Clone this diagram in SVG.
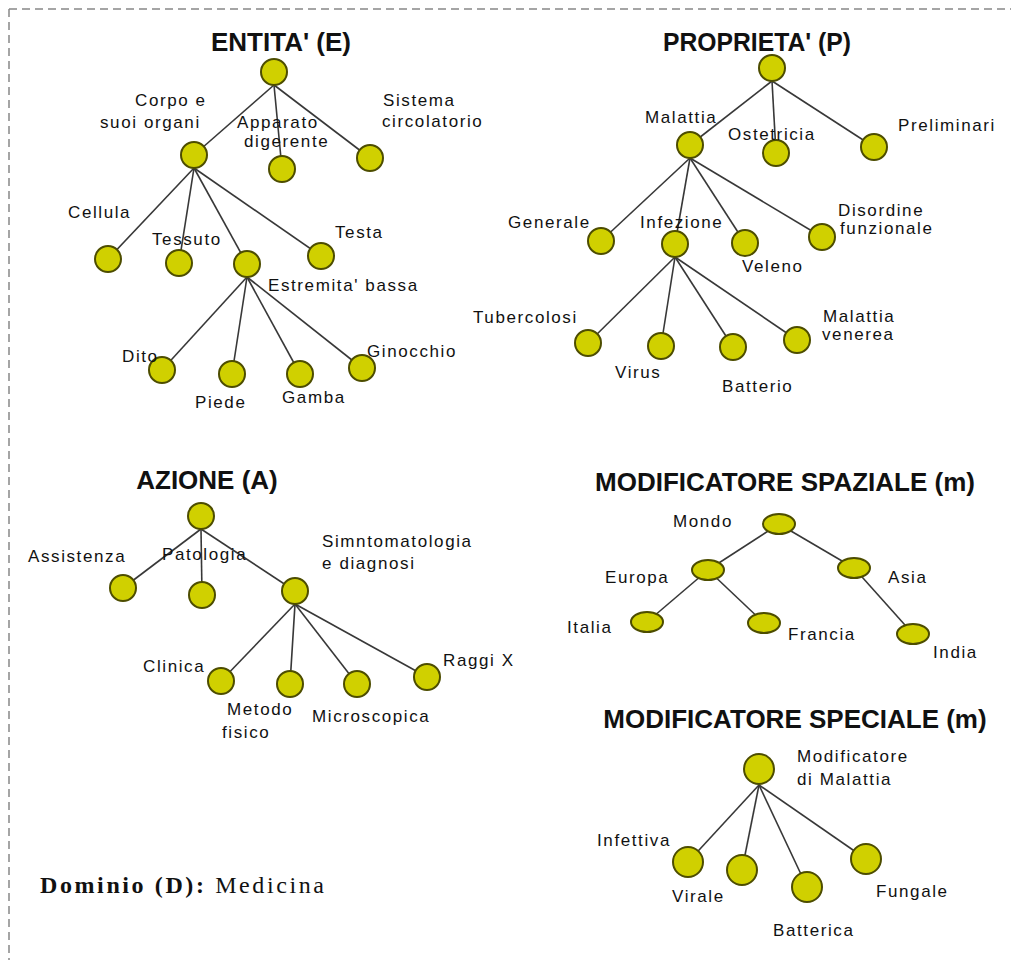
<svg xmlns="http://www.w3.org/2000/svg" width="1011" height="960" viewBox="0 0 1011 960">
<style>
.n{fill:#d0d000;stroke:#4d4d00;stroke-width:2}
.e line{stroke:#383838;stroke-width:1.6}
.t{font-family:"Liberation Sans",Arial,sans-serif;font-weight:bold;font-size:26px;fill:#111;text-anchor:middle}
.l{font-family:"Liberation Sans",Arial,sans-serif;font-size:17px;letter-spacing:1.6px;fill:#111}
.d{font-family:"Liberation Serif","Times New Roman",serif;font-size:24px;letter-spacing:2.6px;fill:#111}
</style>
<rect x="0" y="0" width="1011" height="960" fill="#fff"/>
<path d="M9,9 H1011 M9,9 V960" fill="none" stroke="#888" stroke-width="1.5" stroke-dasharray="8 5"/>

<g id="titles">
<text class="t" x="281" y="51">ENTITA' (E)</text>
<text class="t" x="757" y="51" textLength="188" lengthAdjust="spacingAndGlyphs">PROPRIETA' (P)</text>
<text class="t" x="207" y="489">AZIONE (A)</text>
<text class="t" x="785" y="491">MODIFICATORE SPAZIALE (m)</text>
<text class="t" x="795" y="728">MODIFICATORE SPECIALE (m)</text>
</g>

<g id="connectors" class="e">
<line x1="274" y1="85" x2="194" y2="155"/>
<line x1="274" y1="85" x2="282" y2="169"/>
<line x1="274" y1="85" x2="370" y2="158"/>
<line x1="194" y1="168" x2="108" y2="259"/>
<line x1="194" y1="168" x2="179" y2="263"/>
<line x1="194" y1="168" x2="247" y2="264"/>
<line x1="194" y1="168" x2="321" y2="256"/>
<line x1="247" y1="277" x2="162" y2="370"/>
<line x1="247" y1="277" x2="232" y2="374"/>
<line x1="247" y1="277" x2="300" y2="374"/>
<line x1="247" y1="277" x2="362" y2="368"/>
<line x1="772" y1="81" x2="690" y2="145"/>
<line x1="772" y1="81" x2="776" y2="153"/>
<line x1="772" y1="81" x2="874" y2="147"/>
<line x1="690" y1="158" x2="601" y2="241"/>
<line x1="690" y1="158" x2="675" y2="244"/>
<line x1="690" y1="158" x2="745" y2="243"/>
<line x1="690" y1="158" x2="822" y2="237"/>
<line x1="675" y1="257" x2="588" y2="343"/>
<line x1="675" y1="257" x2="661" y2="346"/>
<line x1="675" y1="257" x2="733" y2="347"/>
<line x1="675" y1="257" x2="797" y2="340"/>
<line x1="201" y1="529" x2="123" y2="588"/>
<line x1="201" y1="529" x2="202" y2="595"/>
<line x1="201" y1="529" x2="295" y2="591"/>
<line x1="295" y1="604" x2="221" y2="681"/>
<line x1="295" y1="604" x2="290" y2="684"/>
<line x1="295" y1="604" x2="357" y2="684"/>
<line x1="295" y1="604" x2="427" y2="677"/>
<line x1="779" y1="524" x2="708" y2="570"/>
<line x1="779" y1="524" x2="854" y2="568"/>
<line x1="708" y1="570" x2="647" y2="622"/>
<line x1="708" y1="570" x2="764" y2="623"/>
<line x1="854" y1="568" x2="913" y2="634"/>
<line x1="759" y1="785" x2="688" y2="862"/>
<line x1="759" y1="785" x2="742" y2="870"/>
<line x1="759" y1="785" x2="807" y2="887"/>
<line x1="759" y1="785" x2="866" y2="859"/>
</g>

<g id="e-root"><circle class="n" cx="274" cy="72" r="13"/></g>
<g id="e-corpo"><circle class="n" cx="194" cy="155" r="13"/><text class="l" x="135" y="106">Corpo e</text><text class="l" x="100" y="128">suoi organi</text></g>
<g id="e-apparato"><circle class="n" cx="282" cy="169" r="13"/><text class="l" x="237" y="128">Apparato</text><text class="l" x="244" y="147">digerente</text></g>
<g id="e-sistema"><circle class="n" cx="370" cy="158" r="13"/><text class="l" x="383" y="106">Sistema</text><text class="l" x="382" y="127">circolatorio</text></g>
<g id="e-cellula"><circle class="n" cx="108" cy="259" r="13"/><text class="l" x="68" y="218">Cellula</text></g>
<g id="e-tessuto"><circle class="n" cx="179" cy="263" r="13"/><text class="l" x="152" y="245">Tessuto</text></g>
<g id="e-estremita"><circle class="n" cx="247" cy="264" r="13"/><text class="l" x="268" y="291">Estremita' bassa</text></g>
<g id="e-testa"><circle class="n" cx="321" cy="256" r="13"/><text class="l" x="335" y="238">Testa</text></g>
<g id="e-dito"><circle class="n" cx="162" cy="370" r="13"/><text class="l" x="122" y="362">Dito</text></g>
<g id="e-piede"><circle class="n" cx="232" cy="374" r="13"/><text class="l" x="195" y="408">Piede</text></g>
<g id="e-gamba"><circle class="n" cx="300" cy="374" r="13"/><text class="l" x="282" y="403">Gamba</text></g>
<g id="e-ginocchio"><circle class="n" cx="362" cy="368" r="13"/><text class="l" x="367" y="357">Ginocchio</text></g>

<g id="p-root"><circle class="n" cx="772" cy="68" r="13"/></g>
<g id="p-malattia"><circle class="n" cx="690" cy="145" r="13"/><text class="l" x="645" y="123">Malattia</text></g>
<g id="p-ostetricia"><circle class="n" cx="776" cy="153" r="13"/><text class="l" x="728" y="140">Ostetricia</text></g>
<g id="p-preliminari"><circle class="n" cx="874" cy="147" r="13"/><text class="l" x="898" y="131">Preliminari</text></g>
<g id="p-generale"><circle class="n" cx="601" cy="241" r="13"/><text class="l" x="508" y="228">Generale</text></g>
<g id="p-infezione"><circle class="n" cx="675" cy="244" r="13"/><text class="l" x="640" y="228">Infezione</text></g>
<g id="p-veleno"><circle class="n" cx="745" cy="243" r="13"/><text class="l" x="742" y="272">Veleno</text></g>
<g id="p-disordine"><circle class="n" cx="822" cy="237" r="13"/><text class="l" x="838" y="216">Disordine</text><text class="l" x="840" y="234">funzionale</text></g>
<g id="p-tubercolosi"><circle class="n" cx="588" cy="343" r="13"/><text class="l" x="473" y="323">Tubercolosi</text></g>
<g id="p-virus"><circle class="n" cx="661" cy="346" r="13"/><text class="l" x="615" y="378">Virus</text></g>
<g id="p-batterio"><circle class="n" cx="733" cy="347" r="13"/><text class="l" x="722" y="392">Batterio</text></g>
<g id="p-venerea"><circle class="n" cx="797" cy="340" r="13"/><text class="l" x="823" y="322">Malattia</text><text class="l" x="822" y="340">venerea</text></g>

<g id="a-root"><circle class="n" cx="201" cy="516" r="13"/></g>
<g id="a-assistenza"><circle class="n" cx="123" cy="588" r="13"/><text class="l" x="28" y="562">Assistenza</text></g>
<g id="a-patologia"><circle class="n" cx="202" cy="595" r="13"/><text class="l" x="162" y="560">Patologia</text></g>
<g id="a-simn"><circle class="n" cx="295" cy="591" r="13"/><text class="l" x="322" y="547">Simntomatologia</text><text class="l" x="322" y="569">e diagnosi</text></g>
<g id="a-clinica"><circle class="n" cx="221" cy="681" r="13"/><text class="l" x="143" y="672">Clinica</text></g>
<g id="a-metodo"><circle class="n" cx="290" cy="684" r="13"/><text class="l" x="227" y="715">Metodo</text><text class="l" x="222" y="738">fisico</text></g>
<g id="a-micro"><circle class="n" cx="357" cy="684" r="13"/><text class="l" x="312" y="722">Microscopica</text></g>
<g id="a-raggi"><circle class="n" cx="427" cy="677" r="13"/><text class="l" x="443" y="666">Raggi X</text></g>

<g id="s-mondo"><ellipse class="n" cx="779" cy="524" rx="16" ry="10"/><text class="l" x="673" y="527">Mondo</text></g>
<g id="s-europa"><ellipse class="n" cx="708" cy="570" rx="16" ry="10"/><text class="l" x="605" y="583">Europa</text></g>
<g id="s-asia"><ellipse class="n" cx="854" cy="568" rx="16" ry="10"/><text class="l" x="888" y="583">Asia</text></g>
<g id="s-italia"><ellipse class="n" cx="647" cy="622" rx="16" ry="10"/><text class="l" x="567" y="633">Italia</text></g>
<g id="s-francia"><ellipse class="n" cx="764" cy="623" rx="16" ry="10"/><text class="l" x="788" y="640">Francia</text></g>
<g id="s-india"><ellipse class="n" cx="913" cy="634" rx="16" ry="10"/><text class="l" x="933" y="658">India</text></g>

<g id="m-root"><circle class="n" cx="759" cy="769" r="15"/><text class="l" x="797" y="762">Modificatore</text><text class="l" x="797" y="785">di Malattia</text></g>
<g id="m-virale"><circle class="n" cx="688" cy="862" r="15"/><text class="l" x="597" y="846">Infettiva</text><text class="l" x="672" y="902">Virale</text></g>
<g id="m-n2"><circle class="n" cx="742" cy="870" r="15"/></g>
<g id="m-batterica"><circle class="n" cx="807" cy="887" r="15"/><text class="l" x="773" y="936">Batterica</text></g>
<g id="m-fungale"><circle class="n" cx="866" cy="859" r="15"/><text class="l" x="876" y="897">Fungale</text></g>

<g id="dominio"><text class="d" x="40" y="893"><tspan font-weight="bold">Dominio (D):</tspan> Medicina</text></g>
</svg>
